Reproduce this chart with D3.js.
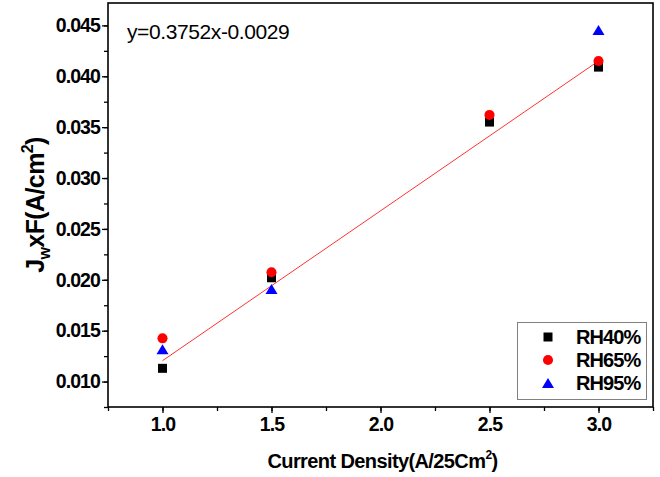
<!DOCTYPE html>
<html><head><meta charset="utf-8">
<script src="https://cdn.jsdelivr.net/npm/d3@7"></script>
<style>
html,body{margin:0;padding:0;background:#fff;}
svg text{font-family:"Liberation Sans",Arial,sans-serif;}
</style></head>
<body>
<svg id="c" width="660" height="477"></svg>
<script>
// ---- data ----
const currentDensity = [1.0, 1.5, 2.5, 3.0];
const rh40 = [0.0113, 0.0202, 0.0355, 0.0409];
const rh65 = [0.01425, 0.02074, 0.0362, 0.0415];
const rh95 = [0.01317, 0.0191, null, 0.04455];
const fitX = [1.0, 3.0];
const fitY = [0.01205, 0.0415];
const seriesNames = ["RH40%", "RH65%", "RH95%"];
const xTicks = [1.0, 1.5, 2.0, 2.5, 3.0];
const yTicks = [0.010, 0.015, 0.020, 0.025, 0.030, 0.035, 0.040, 0.045];
const equationText = "y=0.3752x-0.0029";

const svg = d3.select("#c");
const L = 108, R = 653, T = 3, B = 407;
const x = d3.scaleLinear().domain([0.75, 3.25]).range([L, R]);
const y = d3.scaleLinear().domain([0.0075, 0.0472]).range([B, T]);

// axes
const xMinor = d3.range(0.75, 3.2501, 0.25);
const yMinor = d3.range(0.0075, 0.0472, 0.0025);

const gx = svg.append("g").attr("transform", `translate(0,${B})`);
gx.call(d3.axisBottom(x).tickValues(xMinor).tickSize(4).tickFormat(""));
gx.select(".domain").remove();
const gx2 = svg.append("g").attr("transform", `translate(0,${B})`);
gx2.call(d3.axisBottom(x).tickValues(xTicks).tickSize(6).tickPadding(4).tickFormat(d3.format(".1f")));
gx2.select(".domain").remove();

const gy = svg.append("g").attr("transform", `translate(${L},0)`);
gy.call(d3.axisLeft(y).tickValues(yMinor).tickSize(4).tickFormat(""));
gy.select(".domain").remove();
const gy2 = svg.append("g").attr("transform", `translate(${L},0)`);
gy2.call(d3.axisLeft(y).tickValues(yTicks).tickSize(6).tickPadding(2).tickFormat(d3.format(".3f")));
gy2.select(".domain").remove();

svg.selectAll(".tick line").attr("stroke", "#000").attr("stroke-width", 1.3);
svg.selectAll(".tick text").attr("fill", "#000").attr("font-size", 19.5).attr("font-weight", "bold")
  .attr("font-family", "'Liberation Sans', Arial, sans-serif").attr("letter-spacing", "-0.9px");

// frame
svg.append("rect").attr("x", L).attr("y", T).attr("width", R - L).attr("height", B - T)
  .attr("fill", "none").attr("stroke", "#000").attr("stroke-width", 1.6);

// fit line
svg.append("line")
  .attr("x1", x(fitX[0])).attr("y1", y(fitY[0]))
  .attr("x2", x(fitX[1])).attr("y2", y(fitY[1]))
  .attr("stroke", "#ff3333").attr("stroke-width", 1);

// markers
const sq = d3.symbol().type(d3.symbolSquare).size(81);
const ci = d3.symbol().type(d3.symbolCircle).size(80);
function tri(cx, cy) {
  const w = 12, h = 10;
  return `M${cx},${cy - h / 2}L${cx + w / 2},${cy + h / 2}L${cx - w / 2},${cy + h / 2}Z`;
}
const series = [
  { vals: rh40, color: "#000000", kind: "sq" },
  { vals: rh65, color: "#ff0000", kind: "ci" },
  { vals: rh95, color: "#0000ff", kind: "tri" }
];
series.forEach(s => {
  const pts = currentDensity.map((c, i) => ({ c, v: s.vals[i] })).filter(d => d.v != null);
  svg.append("g").selectAll("path").data(pts).join("path")
    .attr("d", d => s.kind === "tri" ? tri(x(d.c), y(d.v)) : (s.kind === "sq" ? sq() : ci()))
    .attr("transform", d => s.kind === "tri" ? null : `translate(${x(d.c)},${y(d.v)})`)
    .attr("fill", s.color);
});

// equation
svg.append("text").attr("x", 127).attr("y", 39).attr("font-size", 21).attr("fill", "#000")
  .attr("letter-spacing", "-0.4px").text(equationText);

// legend
const lg = svg.append("g");
lg.append("rect").attr("x", 517.5).attr("y", 322.5).attr("width", 129).attr("height", 77)
  .attr("fill", "#fff").attr("stroke", "#808080").attr("stroke-width", 1);
const rowsY = [337, 360, 383];
series.forEach((s, i) => {
  const cy = rowsY[i], cx = 548;
  if (s.kind === "tri") lg.append("path").attr("d", tri(cx, cy)).attr("fill", s.color);
  else lg.append("path").attr("d", s.kind === "sq" ? sq() : ci()).attr("transform", `translate(${cx},${cy})`).attr("fill", s.color);
  lg.append("text").attr("x", 576).attr("y", cy + 7).attr("font-size", 20).attr("font-weight", "bold")
    .attr("letter-spacing", "-0.9px").attr("fill", "#000").text(seriesNames[i]);
});

// x title
const xt = svg.append("text").attr("x", (L + R) / 2 + 2).attr("y", 468).attr("text-anchor", "middle")
  .attr("font-size", 20).attr("font-weight", "bold").attr("letter-spacing", "-0.6px").attr("fill", "#000");
xt.append("tspan").text("Current Density(A/25Cm");
xt.append("tspan").attr("font-size", 12).attr("dy", -9).text("2");
xt.append("tspan").attr("dy", 9).text(")");

// y title
const yt = svg.append("text").attr("transform", `translate(44,205) rotate(-90)`)
  .attr("text-anchor", "middle").attr("font-size", 25).attr("font-weight", "bold")
  .attr("letter-spacing", "-0.6px").attr("fill", "#000");
yt.append("tspan").text("J");
yt.append("tspan").attr("font-size", 16).attr("dy", 6).text("w");
yt.append("tspan").attr("dy", -6).text("xF(A/cm");
yt.append("tspan").attr("font-size", 16).attr("dy", -11).text("2");
yt.append("tspan").attr("dy", 11).text(")");
</script>
</body></html>
